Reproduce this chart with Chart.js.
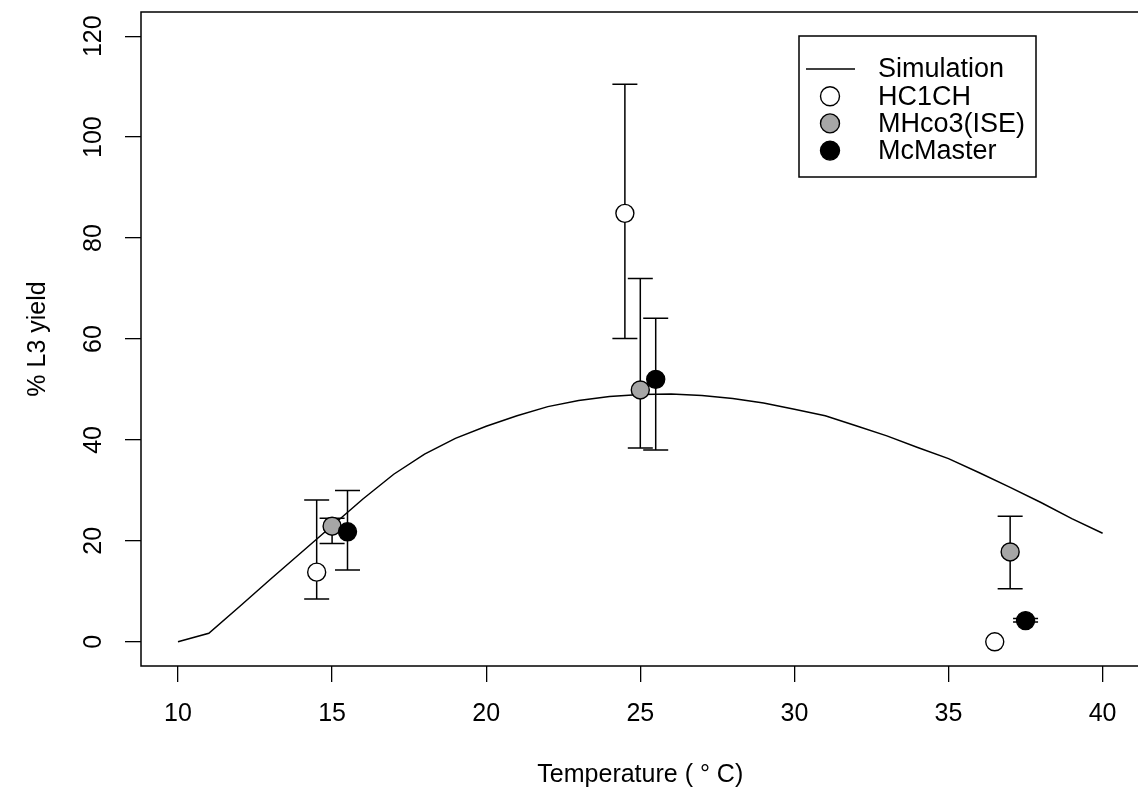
<!DOCTYPE html>
<html>
<head>
<meta charset="utf-8">
<script src="https://cdn.jsdelivr.net/npm/chart.js@4.4.1/dist/chart.umd.min.js"></script>
<style>
  html, body { margin: 0; padding: 0; background: #fff; overflow: hidden; }
  canvas { display: block; }
</style>
</head>
<body>
<canvas id="myChart" width="1150" height="791"></canvas>
<script>
// simulated curve, one value per degree
const simTemp = [10, 11, 12, 13, 14, 15, 16, 17, 18, 19, 20, 21, 22, 23, 24, 25,
  26, 27, 28, 29, 30, 31, 32, 33, 34, 35, 36, 37, 38, 39, 40];
const simYield = [0, 1.7, 7.0, 12.4, 17.7, 23.0, 28.3, 33.2, 37.2, 40.3, 42.7, 44.8,
  46.6, 47.8, 48.6, 49.0, 49.1, 48.8, 48.2, 47.3, 46.1, 44.8, 42.8, 40.8, 38.5,
  36.3, 33.5, 30.6, 27.6, 24.4, 21.5];

// observed isolates (mean, lower and upper bar)
const hcTemp = [14.5, 24.5, 36.5];
const hcYield = [13.8, 84.9, 0];
const hcLow = [8.5, 60.1, null];
const hcHigh = [28.1, 110.5, null];

const mhTemp = [15, 25, 37];
const mhYield = [22.9, 49.9, 17.8];
const mhLow = [19.5, 38.4, 10.5];
const mhHigh = [24.5, 72.0, 24.9];

const mcTemp = [15.5, 25.5, 37.5];
const mcYield = [21.8, 52.0, 4.2];
const mcLow = [14.2, 38.0, 3.9];
const mcHigh = [30.0, 64.1, 4.6];

const xTicksStep = 5;
const yTicksStep = 20;

const toPoints = (xs, ys) => xs.map((x, i) => ({ x: x, y: ys[i] }));

Chart.defaults.font.family = "'Liberation Sans', Arial, sans-serif";
Chart.defaults.font.size = 25;
Chart.defaults.color = "#000";

// error bars go on top of the line but under the circles
const errorBars = {
  id: "errorBars",
  afterDatasetDraw(chart, args) {
    if (args.index !== 0) return;
    const ctx = chart.ctx;
    const xs = chart.scales.x;
    const ys = chart.scales.y;
    const groups = [
      [hcTemp, hcLow, hcHigh],
      [mhTemp, mhLow, mhHigh],
      [mcTemp, mcLow, mcHigh],
    ];
    ctx.save();
    ctx.strokeStyle = "#000";
    ctx.lineWidth = 1.5;
    groups.forEach(([t, lo, hi]) => {
      for (let i = 0; i < t.length; i++) {
        if (lo[i] == null) continue;
        const px = xs.getPixelForValue(t[i]);
        const y1 = ys.getPixelForValue(lo[i]);
        const y2 = ys.getPixelForValue(hi[i]);
        ctx.beginPath();
        ctx.moveTo(px, y1);
        ctx.lineTo(px, y2);
        ctx.moveTo(px - 12.5, y1);
        ctx.lineTo(px + 12.5, y1);
        ctx.moveTo(px - 12.5, y2);
        ctx.lineTo(px + 12.5, y2);
        ctx.stroke();
      }
    });
    ctx.restore();
  },
};

// frame round the plot and the boxed legend
const frameAndLegend = {
  id: "frameAndLegend",
  afterDraw(chart) {
    const ctx = chart.ctx;
    const a = chart.chartArea;
    ctx.save();
    ctx.strokeStyle = "#000";
    ctx.lineWidth = 1.5;
    ctx.strokeRect(a.left, a.top, a.right - a.left, a.bottom - a.top);

    const bx = 799, by = 36, bw = 237, bh = 141;
    ctx.fillStyle = "#fff";
    ctx.fillRect(bx, by, bw, bh);
    ctx.strokeRect(bx, by, bw, bh);

    ctx.font = "27px 'Liberation Sans', Arial, sans-serif";
    ctx.textBaseline = "middle";
    ctx.textAlign = "left";
    chart.data.datasets.forEach((ds, i) => {
      const cy = 69 + i * 27.2;
      if (ds.showLine) {
        ctx.beginPath();
        ctx.moveTo(806, cy);
        ctx.lineTo(855, cy);
        ctx.lineWidth = 1.5;
        ctx.stroke();
      } else {
        ctx.beginPath();
        ctx.arc(830, cy, 9.5, 0, Math.PI * 2);
        ctx.fillStyle = ds.backgroundColor;
        ctx.fill();
        ctx.lineWidth = 1.4;
        ctx.stroke();
      }
      ctx.fillStyle = "#000";
      ctx.fillText(ds.label, 878, cy + 1);
    });
    ctx.restore();
  },
};

const ctx = document.getElementById("myChart").getContext("2d");

const myChart = new Chart(ctx, {
  type: "scatter",
  data: {
    datasets: [
      {
        label: "Simulation",
        data: toPoints(simTemp, simYield),
        showLine: true,
        borderColor: "#000",
        borderWidth: 1.5,
        pointRadius: 0,
        fill: false,
        order: 3,
      },
      {
        label: "HC1CH",
        data: toPoints(hcTemp, hcYield),
        backgroundColor: "#ffffff",
        borderColor: "#000",
        borderWidth: 1.4,
        pointRadius: 9,
        order: 2,
      },
      {
        label: "MHco3(ISE)",
        data: toPoints(mhTemp, mhYield),
        backgroundColor: "#a6a6a6",
        borderColor: "#000",
        borderWidth: 1.4,
        pointRadius: 9,
        order: 1,
      },
      {
        label: "McMaster",
        data: toPoints(mcTemp, mcYield),
        backgroundColor: "#000000",
        borderColor: "#000",
        borderWidth: 1.4,
        pointRadius: 9,
        order: 0,
      },
    ],
  },
  options: {
    responsive: false,
    animation: false,
    devicePixelRatio: 1,
    layout: { padding: { top: 12, right: 4, left: 0, bottom: 0 } },
    plugins: {
      legend: { display: false },
      tooltip: { enabled: false },
    },
    scales: {
      x: {
        type: "linear",
        min: 8.8,
        max: 41.2,
        border: { display: false },
        grid: {
          drawOnChartArea: false,
          drawTicks: true,
          tickLength: 16,
          color: "#000",
          lineWidth: 1.3,
        },
        ticks: {
          stepSize: xTicksStep,
          includeBounds: false,
          maxRotation: 0,
          padding: 17,
          color: "#000",
        },
        title: {
          display: true,
          text: "Temperature ( \u00b0 C)",
          color: "#000",
          padding: { top: 0, bottom: 1 },
        },
        afterFit: (s) => {
          s.height = 125;
          s.paddingLeft = 0;
          s.paddingRight = 0;
        },
      },
      y: {
        type: "linear",
        min: -4.8,
        max: 124.8,
        border: { display: false },
        grid: {
          drawOnChartArea: false,
          drawTicks: true,
          tickLength: 16,
          color: "#000",
          lineWidth: 1.3,
        },
        ticks: {
          stepSize: yTicksStep,
          includeBounds: false,
          minRotation: 90,
          maxRotation: 90,
          crossAlign: "center",
          padding: 10,
          color: "#000",
        },
        title: {
          display: true,
          text: "% L3 yield",
          color: "#000",
          padding: { top: 23, bottom: 0 },
        },
        afterFit: (s) => {
          s.width = 141;
          s.paddingTop = 0;
          s.paddingBottom = 0;
        },
      },
    },
  },
  plugins: [errorBars, frameAndLegend],
});
</script>
</body>
</html>
